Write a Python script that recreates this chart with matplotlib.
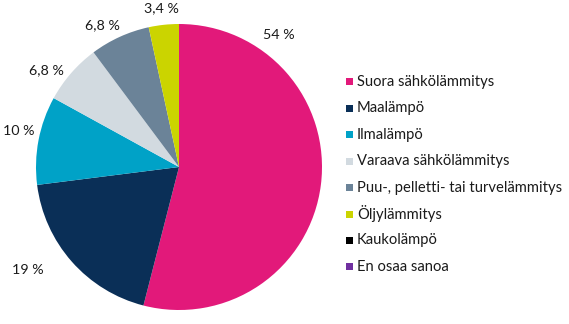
import numpy as np
import matplotlib
matplotlib.use('Agg')
import matplotlib.pyplot as plt
from matplotlib.patches import Rectangle

# Data
categories = ['Suora sähkölämmitys', 'Maalämpö', 'Ilmalämpö', 'Varaava sähkölämmitys',
              'Puu-, pelletti- tai turvelämmitys', 'Öljylämmitys', 'Kaukolämpö', 'En osaa sanoa']
values = [54, 19, 10, 6.8, 6.8, 3.4, 0, 0]
value_labels = ['54 %', '19 %', '10 %', '6,8 %', '6,8 %', '3,4 %', '', '']
colors = ['#E2197A', '#0A2F57', '#00A2C7', '#D2DAE0', '#6B8398', '#CBD400', '#000000', '#7030A0']

# label placement (angle offset in degrees, radius factor)
label_shift = [60, -7, -2, 5, 4, 0, 0, 0]
label_rad = [1.16, 1.28, 1.15, 1.15, 1.13, 1.12, 1, 1]

plt.rcParams['font.family'] = ['Lato', 'DejaVu Sans']
W, H = 569, 324
fig = plt.figure(figsize=(W / 100, H / 100), dpi=100)

cx, cy, r = 179, 157, 143
ax = fig.add_axes([(cx - r) / W, (cy - r) / H, 2 * r / W, 2 * r / H])
wedges, _ = ax.pie(values, colors=colors, startangle=90, counterclock=False, radius=1,
                   wedgeprops=dict(linewidth=0))
ax.set_xlim(-1, 1)
ax.set_ylim(-1, 1)
ax.set_aspect('equal')
ax.axis('off')

for w, lab, sh, rf in zip(wedges, value_labels, label_shift, label_rad):
    if not lab:
        continue
    ang = np.deg2rad((w.theta1 + w.theta2) / 2 + sh)
    ax.text(rf * np.cos(ang), rf * np.sin(ang), lab, ha='center', va='center',
            fontsize=10.3, color='#1a1a1a', clip_on=False)

# legend
y0, dy = 82, 26.4
for i, (cat, col) in enumerate(zip(categories, colors)):
    y = y0 + i * dy
    fig.patches.append(Rectangle((346 / W, 1 - (y + 3.5) / H), 7 / W, 7 / H,
                                 transform=fig.transFigure, facecolor=col, edgecolor='none'))
    fig.text(357 / W, 1 - y / H, cat, ha='left', va='center', fontsize=10.6, color='#1a1a1a')

fig.savefig('out.png', dpi=100)
